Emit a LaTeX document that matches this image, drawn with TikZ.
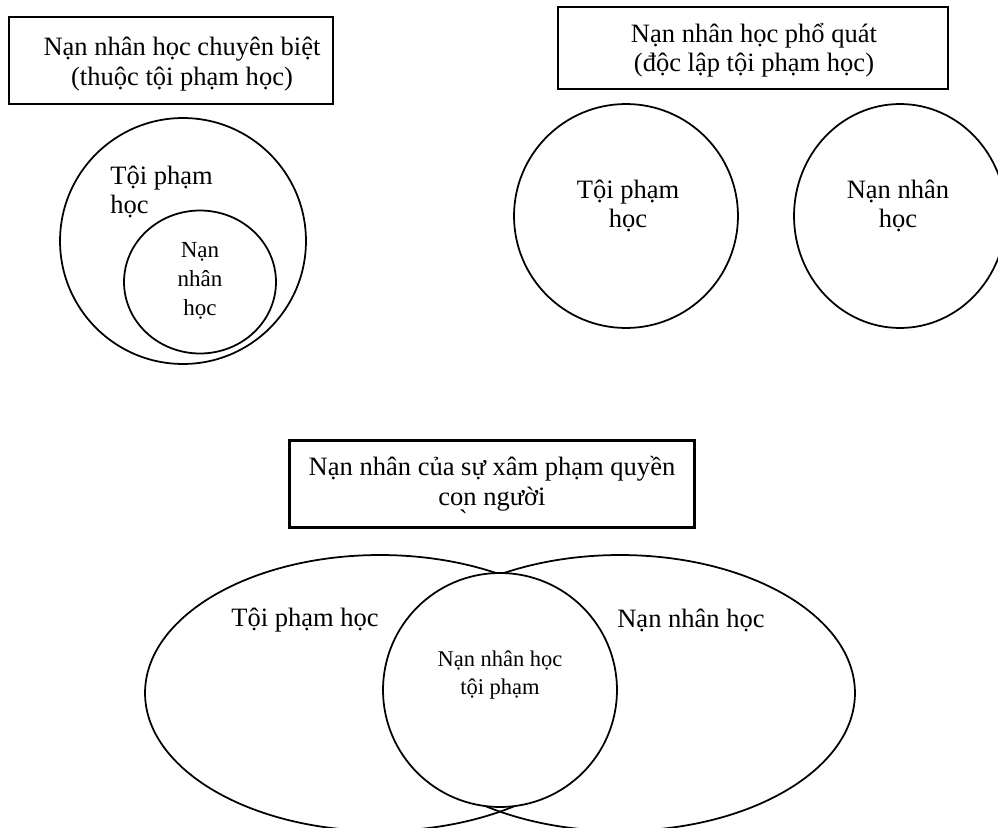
\documentclass[tikz,border=0pt]{standalone}
\usepackage{fontspec}
\setmainfont{Liberation Serif}
\usepackage{tikz}
\usetikzlibrary{shapes.geometric}
\tikzstyle{titlebox} = [rectangle, draw=black, line width=1.2pt]
\tikzstyle{ring} = [circle, draw=black, line width=1pt, inner sep=0pt]
\tikzstyle{oval} = [ellipse, draw=black, line width=1pt, inner sep=0pt]
\tikzstyle{lbl} = [align=center, inner sep=0pt, font=\fontsize{15.1}{16.8}\selectfont]
\tikzstyle{smalllbl} = [align=center, inner sep=0pt, font=\fontsize{13.1}{16.5}\selectfont]

\begin{document}
\begin{tikzpicture}[x=0.02cm, y=-0.02cm]
\useasboundingbox (0,0) rectangle (998,828);

% specialised victimology
\node (box1) [titlebox, minimum width=6.48cm, minimum height=1.74cm] at (171,60.5) {};
\node (box1txt) [lbl] at (182,64) {Nạn nhân học chuyên biệt\\(thuộc tội phạm học)};
\node (crim1) [ring, minimum size=4.92cm] at (183,241) {};
\node (vict1) [oval, minimum width=3.04cm, minimum height=2.86cm] at (200,282) {};
\node (crim1txt) [lbl, align=left, anchor=west] at (110,192) {Tội phạm\\học};
\node (vict1txt) [smalllbl] at (200,281) {Nạn\\nhân\\học};

% general victimology
\node (box2) [titlebox, minimum width=7.8cm, minimum height=1.64cm] at (753,48) {};
\node (box2txt) [lbl] at (754,50) {Nạn nhân học phổ quát\\(độc lập tội phạm học)};
\node (crim2) [ring, minimum size=4.48cm] at (626,216) {};
\node (vict2) [oval, minimum width=4.24cm, minimum height=4.48cm] at (900,216) {};
\node (crim2txt) [lbl] at (628,206) {Tội phạm\\học};
\node (vict2txt) [lbl] at (898,206) {Nạn nhân\\học};

% human rights victimology
\node (box3) [titlebox, minimum width=8.1cm, minimum height=1.74cm] at (492,484) {};
\node (box3txt) [lbl] at (492,484) {Nạn nhân của sự xâm phạm quyền\\con người};
\node (stray) [lbl, anchor=base] at (464,533) {\`{}};
\node (crim3) [oval, minimum width=9.4cm, minimum height=5.52cm] at (380,693) {};
\node (vict3) [oval, minimum width=9.4cm, minimum height=5.52cm] at (620,693) {};
\node (both3) [ring, fill=white, minimum size=4.68cm] at (500,690) {};
\node (crim3txt) [lbl] at (305,620) {Tội phạm học};
\node (vict3txt) [lbl] at (691,620) {Nạn nhân học};
\node (both3txt) [smalllbl, font=\fontsize{12.8}{15.9}\selectfont] at (500,675) {Nạn nhân học\\tội phạm};

\end{tikzpicture}
\end{document}
